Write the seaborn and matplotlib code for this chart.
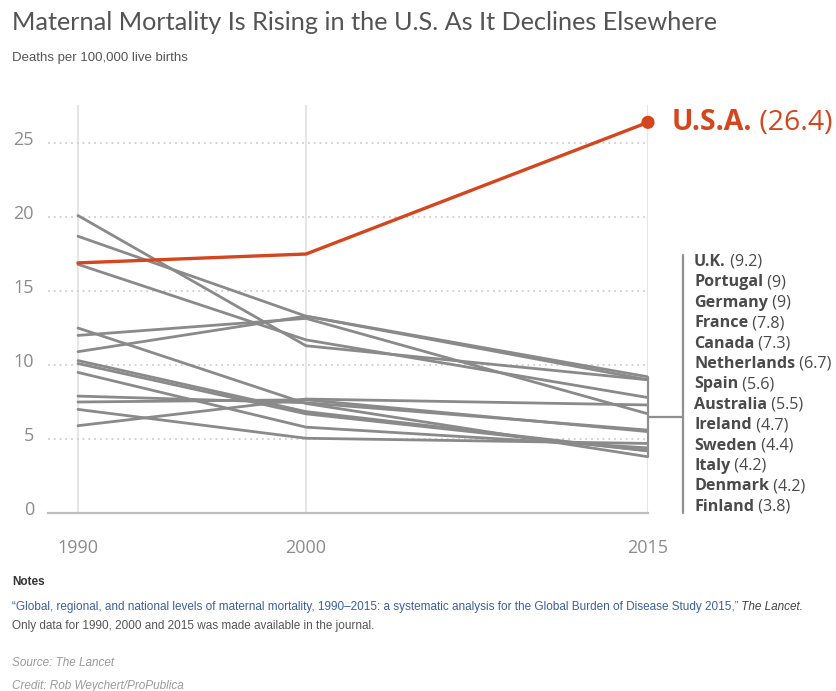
import matplotlib
matplotlib.use("Agg")
import matplotlib.pyplot as plt
import matplotlib.transforms as mtransforms
import numpy as np
import pandas as pd
import seaborn as sns

# ---- data -------------------------------------------------------------
years = [1990, 2000, 2015]
countries = ["U.K.", "Portugal", "Germany", "France", "Canada", "Netherlands",
             "Spain", "Australia", "Ireland", "Sweden", "Italy", "Denmark",
             "Finland"]
rate_1990 = [10.9, 20.1, 18.7, 16.8, 5.9, 12.0, 7.9, 7.5, 7.0, 9.5, 10.3, 10.1, 12.5]
rate_2000 = [13.3, 11.3, 13.3, 11.7, 7.7, 13.15, 7.45, 7.65, 5.05, 5.8, 6.85, 6.7, 7.4]
rate_2015 = [9.2, 9, 9, 7.8, 7.3, 6.7, 5.6, 5.5, 4.7, 4.4, 4.2, 4.2, 3.8]
usa_name = "U.S.A."
usa_rates = [16.9, 17.5, 26.4]
y_ticks = [0, 5, 10, 15, 20, 25]

# ---- long-form table --------------------------------------------------
rows = []
for c, a, b, d in zip(countries, rate_1990, rate_2000, rate_2015):
    for yr, v in zip(years, (a, b, d)):
        rows.append({"country": c, "year": yr, "rate": v})
others = pd.DataFrame(rows)
usa = pd.DataFrame({"country": usa_name, "year": years, "rate": usa_rates})

# ---- style ------------------------------------------------------------
sns.set_theme(style="white")
plt.rcParams["font.family"] = ["Lato", "DejaVu Sans"]

RED = "#d4461d"
GRAY_LINE = "#8a8a8a"
TEXT_DARK = "#4a4a4a"
TICK_GRAY = "#8c8c8c"
NARROW = ["Liberation Sans Narrow", "Liberation Sans", "DejaVu Sans"]
WIDE = ["Open Sans", "DejaVu Sans"]

W, H = 836, 691
fig = plt.figure(figsize=(W / 100, H / 100), dpi=100)


def fx(x):
    return x / W


def fy(y):
    return 1 - y / H


# plot area: x 48..648 px, y 105..513 px
ax = fig.add_axes([fx(48), fy(513), (648 - 48) / W, (513 - 105) / H])

sns.lineplot(data=others, x="year", y="rate", units="country", estimator=None,
             color=GRAY_LINE, linewidth=2.0, ax=ax, legend=False, zorder=3)
sns.lineplot(data=usa, x="year", y="rate", color=RED, linewidth=2.4, ax=ax,
             legend=False, zorder=4)
sns.scatterplot(x=[years[-1]], y=[usa_rates[-1]], color=RED, s=90,
                edgecolor="none", ax=ax, zorder=5, clip_on=False, legend=False)

x_left = years[0] - 30 / 22.8
ax.set_xlim(x_left, years[-1])
ax.set_ylim(0, 27.57)

# grid
ax.set_xticks(years)
ax.set_yticks(y_ticks)
ax.xaxis.grid(True, color="#e6e6e6", linewidth=1.6, linestyle="-")
ax.yaxis.grid(True, color="#cfcfcf", linewidth=1.3, linestyle=(0, (1, 2.2)))
ax.set_axisbelow(True)
for s in ("top", "right", "left"):
    ax.spines[s].set_visible(False)
ax.spines["bottom"].set_color("#bdbdbd")
ax.spines["bottom"].set_linewidth(1.6)
ax.set_xlabel("")
ax.set_ylabel("")

ax.tick_params(axis="both", length=0)
ax.tick_params(axis="y", pad=10, labelsize=13, labelcolor=TICK_GRAY)
ax.tick_params(axis="x", pad=19, labelsize=13, labelcolor=TICK_GRAY)
ax.set_yticklabels([str(t) for t in y_ticks])
ax.set_xticklabels([str(y) for y in years])
lift = mtransforms.ScaledTranslation(0, 5 / 100, fig.dpi_scale_trans)
for lab in ax.get_yticklabels():
    lab.set_transform(lab.get_transform() + lift)
    lab.set_family(WIDE)
for lab in ax.get_xticklabels():
    lab.set_family(WIDE)

# bracket gathering the other countries at 2015
lo, hi = min(rate_2015), max(rate_2015)
mid = (lo + hi) / 2
ax.plot([years[-1], years[-1]], [lo, hi], color="#8f8f8f", lw=1.6,
        clip_on=False, zorder=6)
bx = (683 - 48) / 600 * (years[-1] - x_left) + x_left
ax.plot([years[-1], bx], [mid, mid], color="#8f8f8f", lw=1.6, clip_on=False)
ax.plot([bx, bx], [0, (513 - 255) / 408 * 27.57], color="#8f8f8f", lw=1.6,
        clip_on=False)

# country labels on the right
top_frac = (513 - 262) / 408
step = 20.4 / 408
for i, (c, v) in enumerate(zip(countries, rate_2015)):
    yy = top_frac - i * step
    t = ax.text((694 - 48) / 600, yy, c, transform=ax.transAxes,
                fontsize=11.6, fontweight="bold", color=TEXT_DARK,
                ha="left", va="center", clip_on=False, family=WIDE)
    ax.annotate(f" ({v:g})", xy=(1, 0), xycoords=t, ha="left", va="bottom",
                fontsize=11.6, color=TEXT_DARK, annotation_clip=False,
                family=WIDE)

# U.S.A. label
ut = ax.annotate(usa_name, xy=(years[-1], usa_rates[-1]), xycoords="data",
                 xytext=(24, 0), textcoords="offset pixels", ha="left",
                 va="center", fontsize=20.5, fontweight="bold", color=RED,
                 annotation_clip=False, family=WIDE)
ax.annotate(f" ({usa_rates[-1]:g})", xy=(1, 0), xycoords=ut, ha="left",
            va="bottom", fontsize=20.5, color=RED, annotation_clip=False,
            family=WIDE)

# ---- titles and notes -------------------------------------------------
fig.text(fx(12), fy(22), "Maternal Mortality Is Rising in the U.S. As It Declines Elsewhere",
         fontsize=18.2, color="#545454", ha="left", va="center")
fig.text(fx(12), fy(58), "Deaths per 100,000 live births", fontsize=9.5,
         color="#555555", ha="left", va="center", family=NARROW)

fig.text(fx(12), fy(582), "Notes", fontsize=8.5, fontweight="bold",
         color="#333333", ha="left", va="center", family=NARROW)
n1 = fig.text(fx(12), fy(607),
              "\u201cGlobal, regional, and national levels of maternal mortality, 1990\u20132015: "
              "a systematic analysis for the Global Burden of Disease Study 2015,\u201d",
              fontsize=8.5, color="#3b5fa0", ha="left", va="center", family=NARROW)
fig.add_artist(plt.Annotation(" The Lancet.", xy=(1, 0), xycoords=n1, ha="left",
                              va="bottom", fontsize=8.5, color="#444444",
                              style="italic", family=NARROW))
fig.text(fx(12), fy(626), "Only data for 1990, 2000 and 2015 was made available in the journal.",
         fontsize=8.5, color="#555555", ha="left", va="center", family=NARROW)
fig.text(fx(12), fy(663), "Source: The Lancet", fontsize=8.5, color="#9a9a9a",
         style="italic", ha="left", va="center", family=NARROW)
fig.text(fx(12), fy(686), "Credit: Rob Weychert/ProPublica", fontsize=8.5,
         color="#9a9a9a", style="italic", ha="left", va="center", family=NARROW)

fig.savefig("out.png", dpi=100, facecolor="white")
